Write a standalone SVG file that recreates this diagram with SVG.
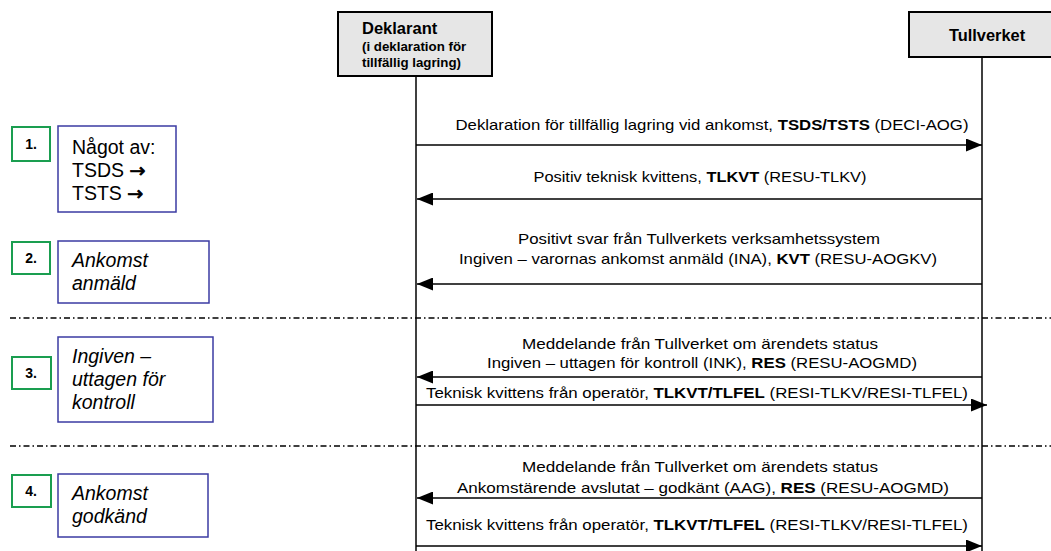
<svg xmlns="http://www.w3.org/2000/svg" width="1051" height="551" viewBox="0 0 1051 551">
<style>
text{font-family:"Liberation Sans",Arial,sans-serif;fill:#000}
.actor{fill:#e6e6e6;stroke:#000;stroke-width:2}
.life{stroke:#000;stroke-width:1.5;fill:none}
.msg{stroke:#000;stroke-width:1.5;fill:none}
.sep{stroke:#000;stroke-width:1.3;stroke-dasharray:6 3 1.5 3;fill:none}
.lbl{font-size:15px;text-anchor:middle}
.num{fill:#fff;stroke:#1a9e50;stroke-width:2}
.note{fill:#fff;stroke:#3b3ba3;stroke-width:1.5}
.numt{font-size:14px;font-weight:bold;text-anchor:middle}
.nt{font-size:19.5px}
.ar{font-family:"DejaVu Sans",sans-serif;font-size:19px;stroke:#000;stroke-width:0.8}
.it{font-style:italic}
.b{font-weight:bold}
</style>
<defs>
<marker id="arr" markerUnits="userSpaceOnUse" markerWidth="16" markerHeight="13" refX="16" refY="6.5" orient="auto">
<path d="M0,0 L16,6.5 L0,13 z" fill="#000"/>
</marker>
</defs>

<g id="deklarant">
<rect class="actor" x="338" y="12" width="154" height="64"/>
<text x="362" y="34" style="font-size:16.5px;font-weight:bold">Deklarant</text>
<text x="362" y="51" style="font-size:13.3px;font-weight:bold">(i deklaration för</text>
<text x="362" y="67" style="font-size:13.3px;font-weight:bold">tillfällig lagring)</text>
</g>

<g id="tullverket">
<rect class="actor" x="909" y="12" width="150" height="45"/>
<text x="987" y="41" style="font-size:16.4px;font-weight:bold;text-anchor:middle">Tullverket</text>
</g>

<g id="lifelines">
<line class="life" x1="416" y1="76" x2="416" y2="551"/>
<line class="life" x1="982" y1="57" x2="982" y2="551"/>
</g>

<g id="separators">
<line class="sep" x1="10" y1="318" x2="1051" y2="318"/>
<line class="sep" x1="10" y1="446" x2="1051" y2="446"/>
</g>

<g id="connectors">
<line class="msg" x1="416" y1="145" x2="982" y2="145" marker-end="url(#arr)"/>
<line class="msg" x1="982" y1="199" x2="417" y2="199" marker-end="url(#arr)"/>
<line class="msg" x1="982" y1="284" x2="417" y2="284" marker-end="url(#arr)"/>
<line class="msg" x1="982" y1="377" x2="417" y2="377" marker-end="url(#arr)"/>
<line class="msg" x1="416" y1="405" x2="987" y2="405" marker-end="url(#arr)"/>
<line class="msg" x1="982" y1="498" x2="417" y2="498" marker-end="url(#arr)"/>
<line class="msg" x1="416" y1="546" x2="982" y2="546" marker-end="url(#arr)"/>
</g>

<g id="labels">
<text class="lbl" x="712" y="130" textLength="513" lengthAdjust="spacingAndGlyphs">Deklaration för tillfällig lagring vid ankomst, <tspan class="b">TSDS/TSTS</tspan> (DECI-AOG)</text>
<text class="lbl" x="700" y="182" textLength="333" lengthAdjust="spacingAndGlyphs">Positiv teknisk kvittens, <tspan class="b">TLKVT</tspan> (RESU-TLKV)</text>
<text class="lbl" x="699" y="244" textLength="362" lengthAdjust="spacingAndGlyphs">Positivt svar från Tullverkets verksamhetssystem</text>
<text class="lbl" x="698" y="264" textLength="478" lengthAdjust="spacingAndGlyphs">Ingiven – varornas ankomst anmäld (INA), <tspan class="b">KVT</tspan> (RESU-AOGKV)</text>
<text class="lbl" x="700" y="349" textLength="356" lengthAdjust="spacingAndGlyphs">Meddelande från Tullverket om ärendets status</text>
<text class="lbl" x="702" y="368" textLength="430" lengthAdjust="spacingAndGlyphs">Ingiven – uttagen för kontroll (INK), <tspan class="b">RES</tspan> (RESU-AOGMD)</text>
<text class="lbl" x="697" y="398" textLength="542" lengthAdjust="spacingAndGlyphs">Teknisk kvittens från operatör, <tspan class="b">TLKVT/TLFEL</tspan> (RESI-TLKV/RESI-TLFEL)</text>
<text class="lbl" x="700" y="472" textLength="356" lengthAdjust="spacingAndGlyphs">Meddelande från Tullverket om ärendets status</text>
<text class="lbl" x="703" y="493" textLength="492" lengthAdjust="spacingAndGlyphs">Ankomstärende avslutat – godkänt (AAG), <tspan class="b">RES</tspan> (RESU-AOGMD)</text>
<text class="lbl" x="697" y="530" textLength="542" lengthAdjust="spacingAndGlyphs">Teknisk kvittens från operatör, <tspan class="b">TLKVT/TLFEL</tspan> (RESI-TLKV/RESI-TLFEL)</text>
</g>

<g id="step1">
<rect class="num" x="12" y="127" width="38" height="34"/>
<text class="numt" x="31" y="149">1.</text>
<rect class="note" x="58" y="126" width="118" height="86"/>
<text class="nt" x="72" y="154">Något av:</text>
<text class="nt" x="72" y="177">TSDS <tspan class="ar">→</tspan></text>
<text class="nt" x="72" y="200">TSTS <tspan class="ar">→</tspan></text>
</g>

<g id="step2">
<rect class="num" x="12" y="242" width="38" height="32"/>
<text class="numt" x="31" y="263">2.</text>
<rect class="note" x="58" y="241" width="151" height="62"/>
<text class="nt it" x="72" y="267">Ankomst</text>
<text class="nt it" x="72" y="290">anmäld</text>
</g>

<g id="step3">
<rect class="num" x="12" y="357" width="39" height="32"/>
<text class="numt" x="31" y="378">3.</text>
<rect class="note" x="58" y="337" width="155" height="85"/>
<text class="nt it" x="72" y="363">Ingiven –</text>
<text class="nt it" x="72" y="386">uttagen för</text>
<text class="nt it" x="72" y="409">kontroll</text>
</g>

<g id="step4">
<rect class="num" x="12" y="475" width="39" height="32"/>
<text class="numt" x="31" y="496">4.</text>
<rect class="note" x="58" y="474" width="150" height="63"/>
<text class="nt it" x="72" y="500">Ankomst</text>
<text class="nt it" x="72" y="523">godkänd</text>
</g>
</svg>
